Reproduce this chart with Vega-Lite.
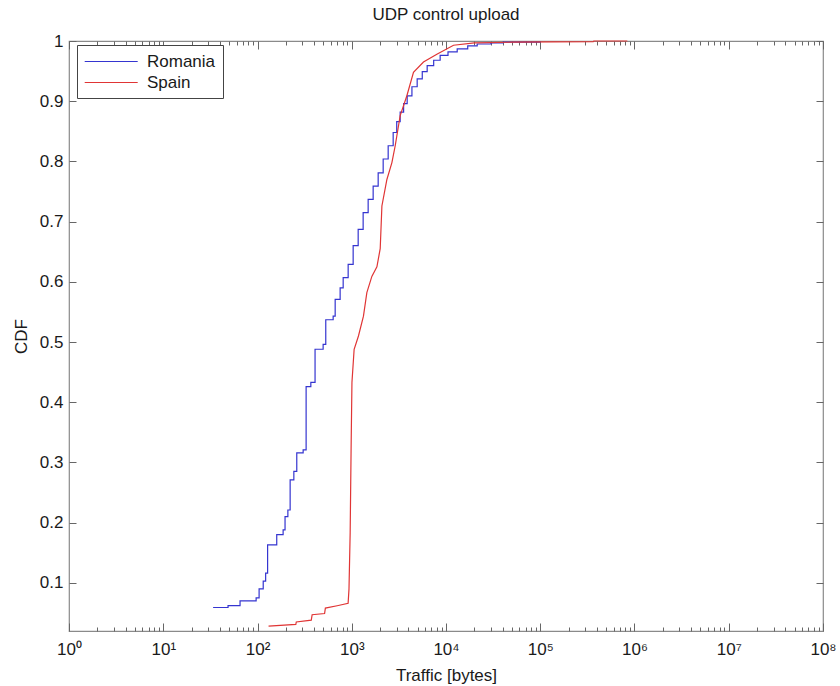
{
  "$schema": "https://vega.github.io/schema/vega-lite/v6.json",
  "width": 754,
  "height": 590,
  "autosize": {"type": "none"},
  "padding": {"left": 69, "top": 41, "right": 17, "bottom": 55},
  "config": {
    "font": "Liberation Sans",
    "view": {"stroke": "#8a8a8a", "strokeWidth": 1.2},
    "axis": {
      "domain": false,
      "grid": false,
      "labelFont": "Liberation Sans",
      "labelFontSize": 17,
      "labelColor": "#1a1a1a",
      "titleFont": "Liberation Sans",
      "titleFontSize": 17,
      "titleFontWeight": "normal",
      "titleColor": "#1a1a1a",
      "tickColor": "#666666",
      "tickWidth": 1
    }
  },
  "title": {
    "text": "UDP control upload",
    "fontSize": 17,
    "fontWeight": "normal",
    "font": "Liberation Sans",
    "color": "#1a1a1a",
    "offset": 8
  },
  "data": {
    "values": [
      {"country": "Romania", "bytes": 33.8, "cdf": 0.059},
      {"country": "Romania", "bytes": 48.7, "cdf": 0.062},
      {"country": "Romania", "bytes": 65.3, "cdf": 0.070},
      {"country": "Romania", "bytes": 96.7, "cdf": 0.075},
      {"country": "Romania", "bytes": 104, "cdf": 0.090},
      {"country": "Romania", "bytes": 115, "cdf": 0.103},
      {"country": "Romania", "bytes": 122, "cdf": 0.116},
      {"country": "Romania", "bytes": 128, "cdf": 0.163},
      {"country": "Romania", "bytes": 160, "cdf": 0.180},
      {"country": "Romania", "bytes": 187, "cdf": 0.188},
      {"country": "Romania", "bytes": 196, "cdf": 0.210},
      {"country": "Romania", "bytes": 210, "cdf": 0.221},
      {"country": "Romania", "bytes": 222, "cdf": 0.271},
      {"country": "Romania", "bytes": 243, "cdf": 0.285},
      {"country": "Romania", "bytes": 261, "cdf": 0.316},
      {"country": "Romania", "bytes": 305, "cdf": 0.321},
      {"country": "Romania", "bytes": 328, "cdf": 0.426},
      {"country": "Romania", "bytes": 368, "cdf": 0.433},
      {"country": "Romania", "bytes": 408, "cdf": 0.488},
      {"country": "Romania", "bytes": 497, "cdf": 0.496},
      {"country": "Romania", "bytes": 530, "cdf": 0.537},
      {"country": "Romania", "bytes": 635, "cdf": 0.543},
      {"country": "Romania", "bytes": 667, "cdf": 0.571},
      {"country": "Romania", "bytes": 753, "cdf": 0.590},
      {"country": "Romania", "bytes": 811, "cdf": 0.607},
      {"country": "Romania", "bytes": 916, "cdf": 0.629},
      {"country": "Romania", "bytes": 1035, "cdf": 0.660},
      {"country": "Romania", "bytes": 1170, "cdf": 0.687},
      {"country": "Romania", "bytes": 1321, "cdf": 0.715},
      {"country": "Romania", "bytes": 1493, "cdf": 0.737},
      {"country": "Romania", "bytes": 1687, "cdf": 0.759},
      {"country": "Romania", "bytes": 1907, "cdf": 0.781},
      {"country": "Romania", "bytes": 2155, "cdf": 0.804},
      {"country": "Romania", "bytes": 2435, "cdf": 0.826},
      {"country": "Romania", "bytes": 2751, "cdf": 0.848},
      {"country": "Romania", "bytes": 3000, "cdf": 0.866},
      {"country": "Romania", "bytes": 3264, "cdf": 0.882},
      {"country": "Romania", "bytes": 3550, "cdf": 0.896},
      {"country": "Romania", "bytes": 3873, "cdf": 0.909},
      {"country": "Romania", "bytes": 4350, "cdf": 0.924},
      {"country": "Romania", "bytes": 4945, "cdf": 0.937},
      {"country": "Romania", "bytes": 5600, "cdf": 0.949},
      {"country": "Romania", "bytes": 6313, "cdf": 0.959},
      {"country": "Romania", "bytes": 7400, "cdf": 0.968},
      {"country": "Romania", "bytes": 8670, "cdf": 0.976},
      {"country": "Romania", "bytes": 10500, "cdf": 0.982},
      {"country": "Romania", "bytes": 13150, "cdf": 0.987},
      {"country": "Romania", "bytes": 17000, "cdf": 0.992},
      {"country": "Romania", "bytes": 21430, "cdf": 0.995},
      {"country": "Romania", "bytes": 30000, "cdf": 0.997},
      {"country": "Romania", "bytes": 40450, "cdf": 0.998},
      {"country": "Romania", "bytes": 100000, "cdf": 0.999},
      {"country": "Spain", "bytes": 131, "cdf": 0.028},
      {"country": "Spain", "bytes": 255, "cdf": 0.031},
      {"country": "Spain", "bytes": 258, "cdf": 0.035},
      {"country": "Spain", "bytes": 372, "cdf": 0.038},
      {"country": "Spain", "bytes": 380, "cdf": 0.047},
      {"country": "Spain", "bytes": 515, "cdf": 0.049},
      {"country": "Spain", "bytes": 525, "cdf": 0.058},
      {"country": "Spain", "bytes": 700, "cdf": 0.062},
      {"country": "Spain", "bytes": 915, "cdf": 0.066},
      {"country": "Spain", "bytes": 935, "cdf": 0.090},
      {"country": "Spain", "bytes": 962, "cdf": 0.183},
      {"country": "Spain", "bytes": 986, "cdf": 0.333},
      {"country": "Spain", "bytes": 1005, "cdf": 0.433},
      {"country": "Spain", "bytes": 1060, "cdf": 0.488},
      {"country": "Spain", "bytes": 1178, "cdf": 0.510},
      {"country": "Spain", "bytes": 1331, "cdf": 0.543},
      {"country": "Spain", "bytes": 1446, "cdf": 0.582},
      {"country": "Spain", "bytes": 1634, "cdf": 0.609},
      {"country": "Spain", "bytes": 1849, "cdf": 0.625},
      {"country": "Spain", "bytes": 2004, "cdf": 0.655},
      {"country": "Spain", "bytes": 2089, "cdf": 0.726},
      {"country": "Spain", "bytes": 2360, "cdf": 0.770},
      {"country": "Spain", "bytes": 2667, "cdf": 0.798},
      {"country": "Spain", "bytes": 2891, "cdf": 0.826},
      {"country": "Spain", "bytes": 3264, "cdf": 0.876},
      {"country": "Spain", "bytes": 3845, "cdf": 0.909},
      {"country": "Spain", "bytes": 4518, "cdf": 0.948},
      {"country": "Spain", "bytes": 5768, "cdf": 0.965},
      {"country": "Spain", "bytes": 7998, "cdf": 0.978},
      {"country": "Spain", "bytes": 12020, "cdf": 0.993},
      {"country": "Spain", "bytes": 20000, "cdf": 0.997},
      {"country": "Spain", "bytes": 50000, "cdf": 0.998},
      {"country": "Spain", "bytes": 365000, "cdf": 0.999},
      {"country": "Spain", "bytes": 370000, "cdf": 1.0},
      {"country": "Spain", "bytes": 839000, "cdf": 1.0}
    ]
  },
  "layer": [
    {
      "transform": [{"filter": "datum.country === 'Romania'"}],
      "mark": {"type": "line", "interpolate": "step-after", "strokeWidth": 1.2},
      "encoding": {
        "x": {
          "field": "bytes", "type": "quantitative",
          "scale": {"type": "log", "domain": [1, 100000000], "nice": false},
          "axis": {
            "orient": "bottom",
            "title": "Traffic [bytes]",
            "titlePadding": 6,
            "values": [1,2,3,4,5,6,7,8,9,10,20,30,40,50,60,70,80,90,100,200,300,400,500,600,700,800,900,1000,2000,3000,4000,5000,6000,7000,8000,9000,10000,20000,30000,40000,50000,60000,70000,80000,90000,100000,200000,300000,400000,500000,600000,700000,800000,900000,1000000,2000000,3000000,4000000,5000000,6000000,7000000,8000000,9000000,10000000,20000000,30000000,40000000,50000000,60000000,70000000,80000000,90000000,100000000],
            "labelExpr": "abs(log(datum.value)/LN10 - round(log(datum.value)/LN10)) < 0.000001 ? '10' + ['⁰','¹','²','³','⁴','⁵','⁶','⁷','⁸'][round(log(datum.value)/LN10)] : ''",
            "labelOverlap": false,
            "labelFlush": false,
            "labelPadding": 18,
            "tickSize": {"condition": {"test": "abs(log(datum.value)/LN10 - round(log(datum.value)/LN10)) < 0.000001", "value": -8}, "value": -4}
          }
        },
        "y": {
          "field": "cdf", "type": "quantitative",
          "scale": {"domain": [0.02, 1], "nice": false, "zero": false},
          "axis": {
            "orient": "left",
            "title": "CDF",
            "titlePadding": 9,
            "values": [0.1, 0.2, 0.3, 0.4, 0.5, 0.6, 0.7, 0.8, 0.9, 1],
            "format": "~g",
            "tickSize": -7,
            "labelPadding": 13
          }
        },
        "color": {
          "field": "country", "type": "nominal",
          "scale": {"domain": ["Romania", "Spain"], "range": ["#3535d0", "#e03535"]},
          "legend": {
            "orient": "none", "legendX": 8, "legendY": 4, "title": null,
            "symbolType": "M-3,0H3", "symbolSize": 312, "symbolStrokeWidth": 1.2,
            "symbolOffset": 17.7,
            "labelFontSize": 17, "labelFont": "Liberation Sans", "labelColor": "#1a1a1a",
            "strokeColor": "#444444", "fillColor": "white", "padding": 7,
            "labelOffset": 26.3, "rowPadding": 3
          }
        }
      }
    },
    {
      "transform": [{"filter": "datum.country === 'Spain'"}],
      "mark": {"type": "line", "strokeWidth": 1.2},
      "encoding": {
        "x": {"field": "bytes", "type": "quantitative", "scale": {"type": "log", "domain": [1, 100000000], "nice": false}, "axis": null},
        "y": {"field": "cdf", "type": "quantitative", "scale": {"domain": [0.02, 1], "nice": false, "zero": false}, "axis": null},
        "color": {
          "field": "country", "type": "nominal",
          "scale": {"domain": ["Romania", "Spain"], "range": ["#3535d0", "#e03535"]},
          "legend": {
            "orient": "none", "legendX": 8, "legendY": 4, "title": null,
            "symbolType": "M-3,0H3", "symbolSize": 312, "symbolStrokeWidth": 1.2,
            "symbolOffset": 17.7,
            "labelFontSize": 17, "labelFont": "Liberation Sans", "labelColor": "#1a1a1a",
            "strokeColor": "#444444", "fillColor": "white", "padding": 7,
            "labelOffset": 26.3, "rowPadding": 3
          }
        }
      }
    },
    {
      "mark": {"type": "point", "opacity": 0},
      "encoding": {
        "x": {
          "field": "bytes", "type": "quantitative",
          "scale": {"type": "log", "domain": [1, 100000000], "nice": false},
          "axis": {
            "orient": "top", "title": null, "labels": false,
            "values": [1,2,3,4,5,6,7,8,9,10,20,30,40,50,60,70,80,90,100,200,300,400,500,600,700,800,900,1000,2000,3000,4000,5000,6000,7000,8000,9000,10000,20000,30000,40000,50000,60000,70000,80000,90000,100000,200000,300000,400000,500000,600000,700000,800000,900000,1000000,2000000,3000000,4000000,5000000,6000000,7000000,8000000,9000000,10000000,20000000,30000000,40000000,50000000,60000000,70000000,80000000,90000000,100000000],
            "tickSize": {"condition": {"test": "abs(log(datum.value)/LN10 - round(log(datum.value)/LN10)) < 0.000001", "value": -8}, "value": -4}
          }
        },
        "y": {
          "field": "cdf", "type": "quantitative",
          "scale": {"domain": [0.02, 1], "nice": false, "zero": false},
          "axis": {
            "orient": "right", "title": null, "labels": false,
            "values": [0.1, 0.2, 0.3, 0.4, 0.5, 0.6, 0.7, 0.8, 0.9, 1],
            "tickSize": -7
          }
        }
      }
    }
  ],
  "resolve": {"axis": {"x": "independent", "y": "independent"}}
}
